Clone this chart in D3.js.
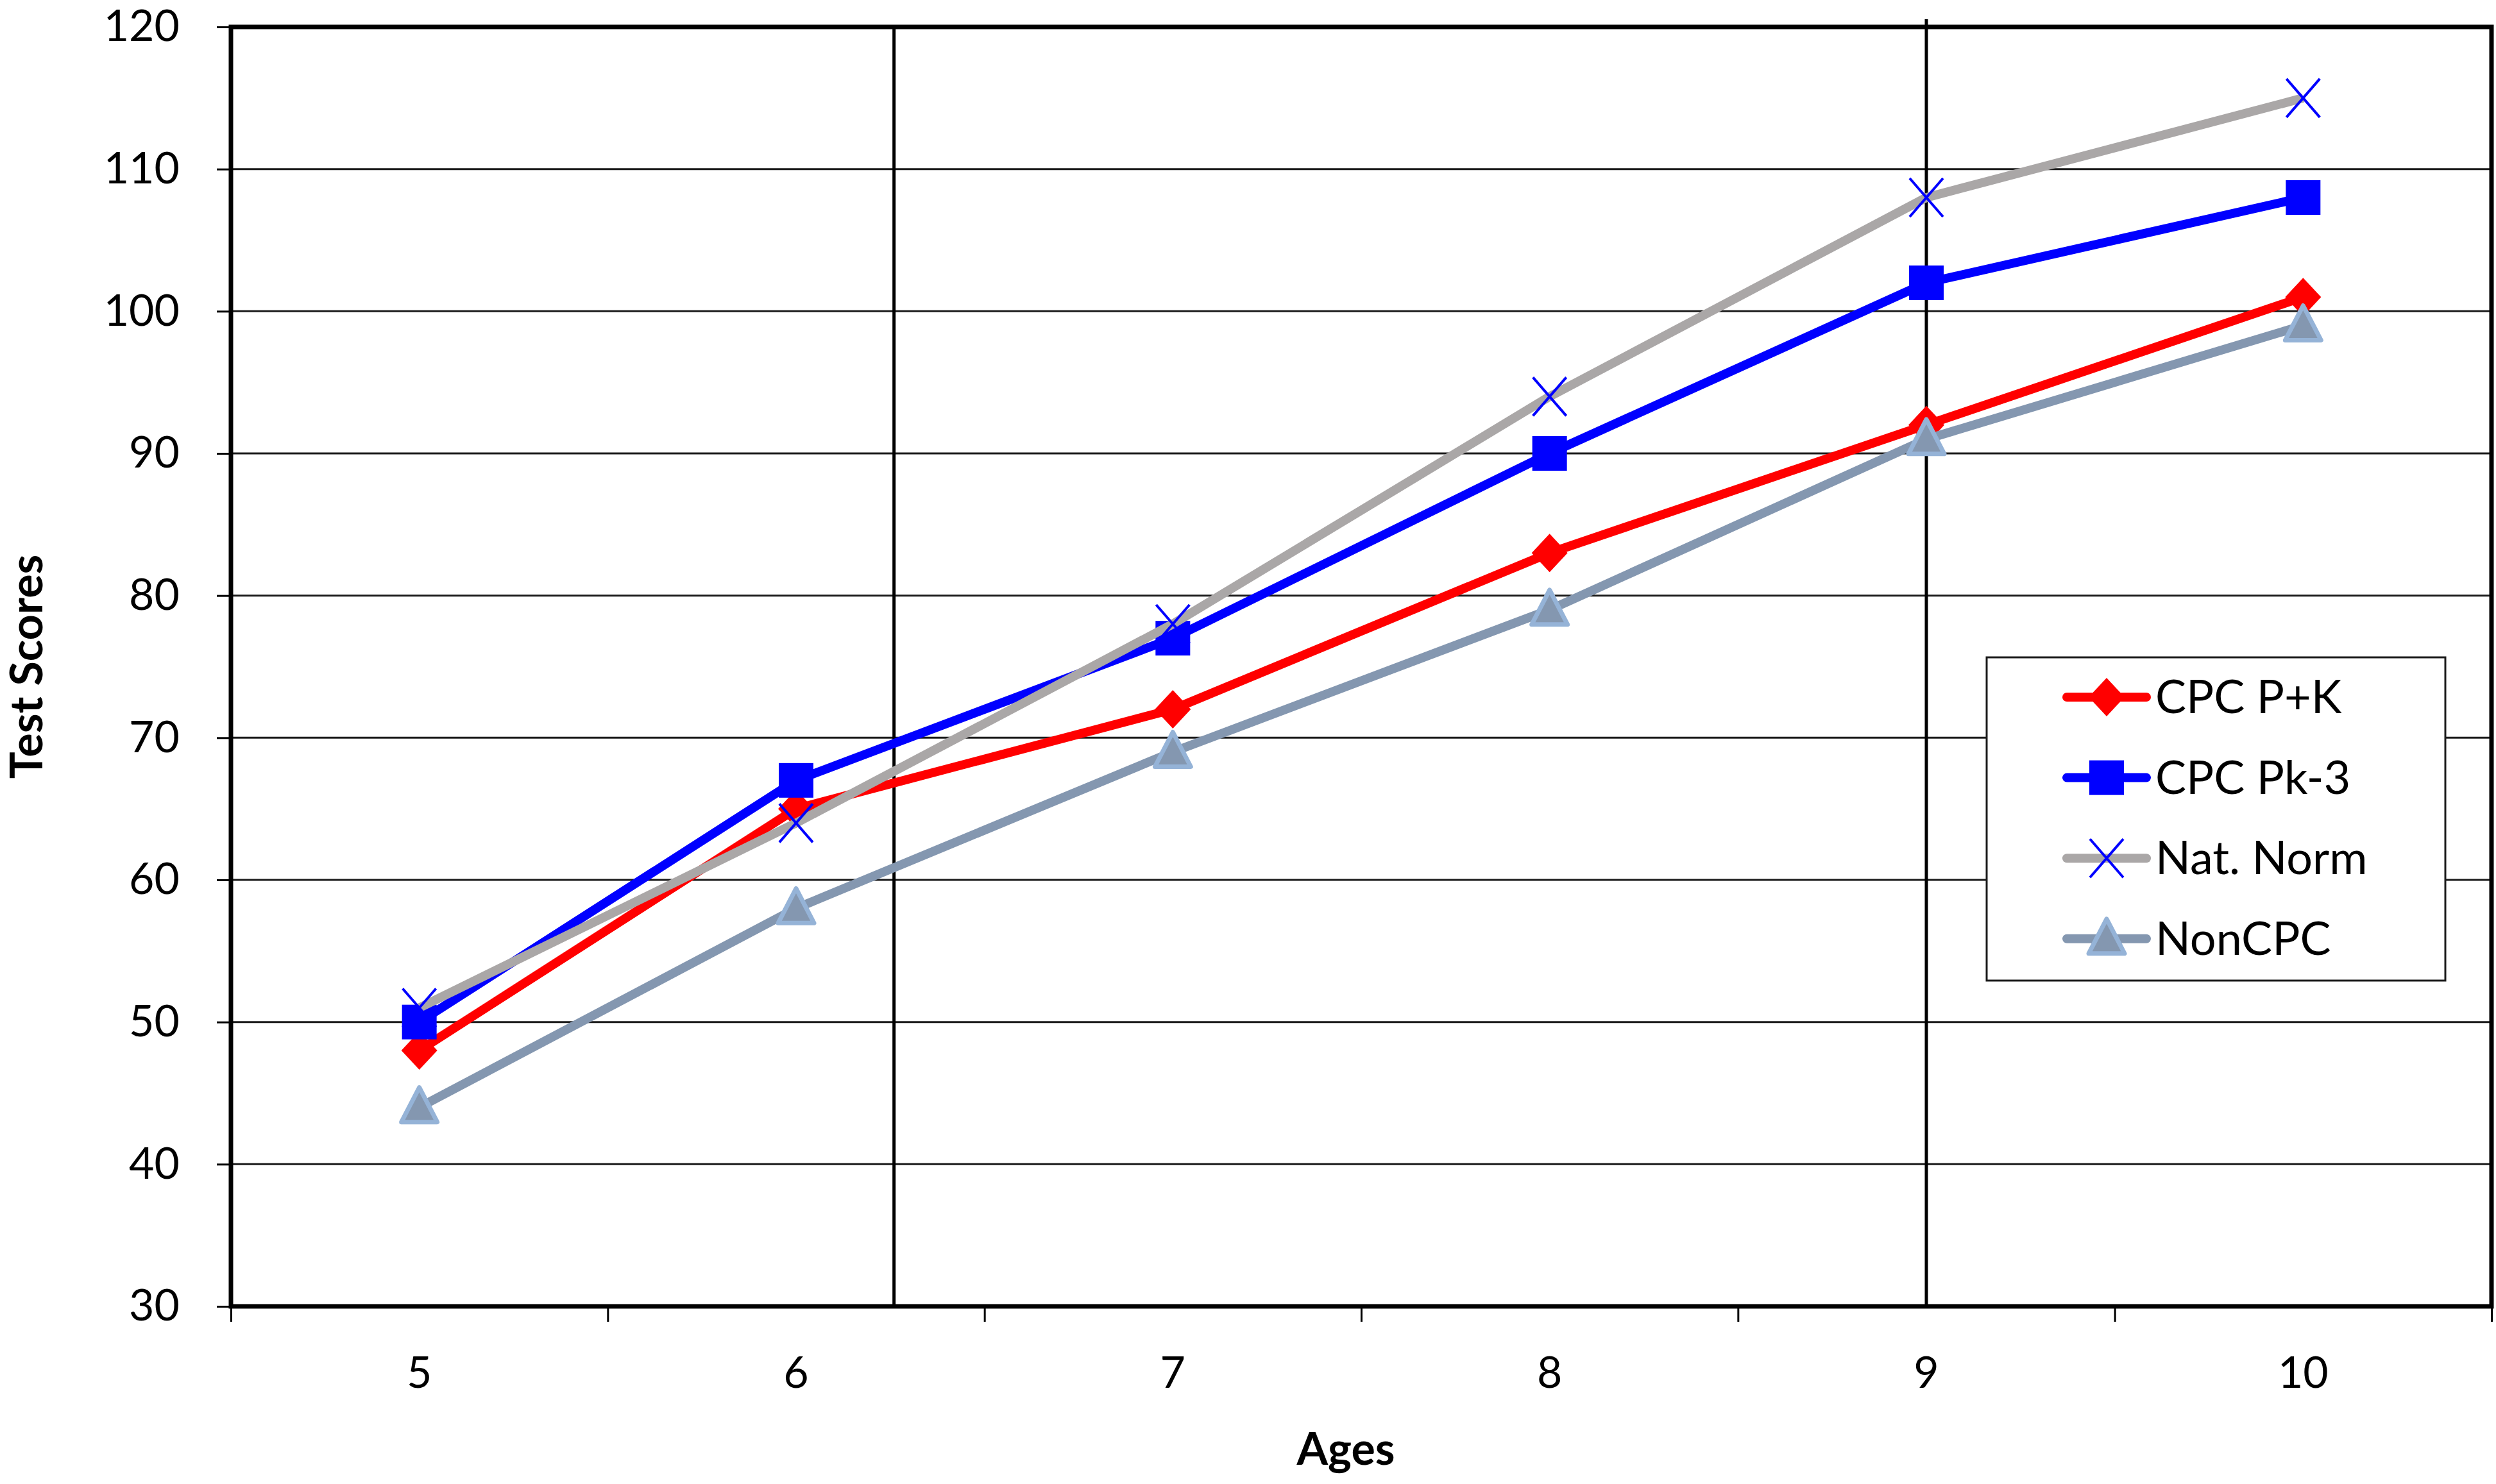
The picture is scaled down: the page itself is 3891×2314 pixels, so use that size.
<!DOCTYPE html>
<html>
<head>
<meta charset="utf-8">
<script src="https://cdn.jsdelivr.net/npm/d3@7"></script>
<style>
  body { margin: 0; background: #fff; }
  text { font-family: Lato, "Open Sans", sans-serif; fill: #000; }
</style>
</head>
<body>
<div id="chart"></div>
<script>
// Data
const ages = [5, 6, 7, 8, 9, 10];
const cpcPK = [48, 65, 72, 83, 92, 101];
const cpcPk3 = [50, 67, 77, 90, 102, 108];
const natNorm = [51, 64, 78, 94, 108, 115];
const nonCPC = [44, 58, 69, 79, 91, 99];
const seriesNames = ["CPC P+K", "CPC Pk-3", "Nat. Norm", "NonCPC"];
const yTicks = [30, 40, 50, 60, 70, 80, 90, 100, 110, 120];
const markerLines = [6.26, 9];

const width = 3891;
const height = 2314;
const margin = {top: 42, right: 7, bottom: 277, left: 360};

// series styles
const series = [
  {name: seriesNames[0], values: cpcPK, color: "#ff0000", marker: "diamond"},
  {name: seriesNames[1], values: cpcPk3, color: "#0000ff", marker: "square"},
  {name: seriesNames[2], values: natNorm, color: "#aaa7a7", marker: "cross"},
  {name: seriesNames[3], values: nonCPC, color: "#8497b0", marker: "triangle"}
];

const svg = d3.select("#chart").append("svg")
  .attr("width", width)
  .attr("height", height);

const x = d3.scaleLinear()
  .domain([4.5, 10.5])
  .range([margin.left, width - margin.right]);

const y = d3.scaleLinear()
  .domain([30, 120])
  .range([height - margin.bottom, margin.top]);

// horizontal gridlines
svg.append("g")
  .selectAll("line")
  .data(yTicks.slice(1))
  .join("line")
  .attr("x1", x(4.5))
  .attr("x2", x(10.5))
  .attr("y1", d => y(d))
  .attr("y2", d => y(d))
  .attr("stroke", "#1a1a1a")
  .attr("stroke-width", 3);

// vertical marker lines
svg.append("g")
  .selectAll("line")
  .data(markerLines)
  .join("line")
  .attr("x1", d => x(d))
  .attr("x2", d => x(d))
  .attr("y1", d => d === 9 ? y(120) - 12 : y(120))
  .attr("y2", y(30))
  .attr("stroke", "#000")
  .attr("stroke-width", 5);

// plot border
svg.append("rect")
  .attr("x", x(4.5))
  .attr("y", y(120))
  .attr("width", x(10.5) - x(4.5))
  .attr("height", y(30) - y(120))
  .attr("fill", "none")
  .attr("stroke", "#000")
  .attr("stroke-width", 7);

// y axis
const yAxis = svg.append("g")
  .attr("transform", `translate(${x(4.5)},0)`)
  .call(d3.axisLeft(y).tickValues(yTicks).tickSize(22).tickPadding(58));
yAxis.select(".domain").remove();
yAxis.selectAll(".tick line").attr("stroke", "#000").attr("stroke-width", 3);
yAxis.selectAll(".tick text")
  .attr("font-size", 68)
  .attr("font-family", "Lato, sans-serif");

// x axis: ticks on category boundaries, labels at category centres
const xAxis = svg.append("g")
  .attr("transform", `translate(0,${y(30)})`)
  .call(d3.axisBottom(x).tickValues(d3.range(4.5, 10.6, 1)).tickSize(24).tickFormat(""));
xAxis.select(".domain").remove();
xAxis.selectAll(".tick line").attr("stroke", "#000").attr("stroke-width", 3);

svg.append("g")
  .selectAll("text")
  .data(ages)
  .join("text")
  .attr("x", d => x(d))
  .attr("y", y(30) + 127)
  .attr("text-anchor", "middle")
  .attr("font-size", 68)
  .text(d => d);

// axis titles
svg.append("text")
  .attr("transform", `translate(66,${(y(30) + y(120)) / 2}) rotate(-90)`)
  .attr("text-anchor", "middle")
  .attr("font-size", 70)
  .attr("font-weight", "bold")
  .text("Test Scores");

svg.append("text")
  .attr("x", 2098)
  .attr("y", 2284)
  .attr("text-anchor", "middle")
  .attr("font-size", 70)
  .attr("font-weight", "bold")
  .text("Ages");

// marker drawing
function drawMarker(g, type, color) {
  if (type === "diamond") {
    g.append("path").attr("d", "M0,-30L28,0L0,30L-28,0Z").attr("fill", color);
  } else if (type === "square") {
    g.append("rect").attr("x", -27).attr("y", -27).attr("width", 54).attr("height", 54).attr("fill", color);
  } else if (type === "cross") {
    g.append("path").attr("d", "M-26,-30L26,30M26,-30L-26,30")
      .attr("stroke", "#0000ff").attr("stroke-width", 4).attr("fill", "none");
  } else if (type === "triangle") {
    g.append("path").attr("d", "M0,-31L28,23L-28,23Z")
      .attr("fill", "#8497b0").attr("stroke", "#95b3d7").attr("stroke-width", 7)
      .attr("stroke-linejoin", "round");
  }
}

const line = d3.line()
  .x((d, i) => x(ages[i]))
  .y(d => y(d));

series.forEach(s => {
  const g = svg.append("g");
  g.append("path")
    .attr("d", line(s.values))
    .attr("fill", "none")
    .attr("stroke", s.color)
    .attr("stroke-width", 14)
    .attr("stroke-linejoin", "round");
  s.values.forEach((v, i) => {
    const m = g.append("g").attr("transform", `translate(${x(ages[i])},${y(v)})`);
    drawMarker(m, s.marker, s.color);
  });
});

// legend
const legend = svg.append("g");
legend.append("rect")
  .attr("x", 3097)
  .attr("y", 1025)
  .attr("width", 715)
  .attr("height", 504)
  .attr("fill", "#fff")
  .attr("stroke", "#1a1a1a")
  .attr("stroke-width", 3);

series.forEach((s, i) => {
  const cy = 1087 + i * 125.6;
  legend.append("line")
    .attr("x1", 3222).attr("x2", 3346)
    .attr("y1", cy).attr("y2", cy)
    .attr("stroke", s.color)
    .attr("stroke-width", 14)
    .attr("stroke-linecap", "round");
  const m = legend.append("g").attr("transform", `translate(3284,${cy})`);
  drawMarker(m, s.marker, s.color);
  legend.append("text")
    .attr("x", 3360)
    .attr("y", cy)
    .attr("dy", "0.35em")
    .attr("font-size", 72)
    .text(s.name);
});
</script>
</body>
</html>
